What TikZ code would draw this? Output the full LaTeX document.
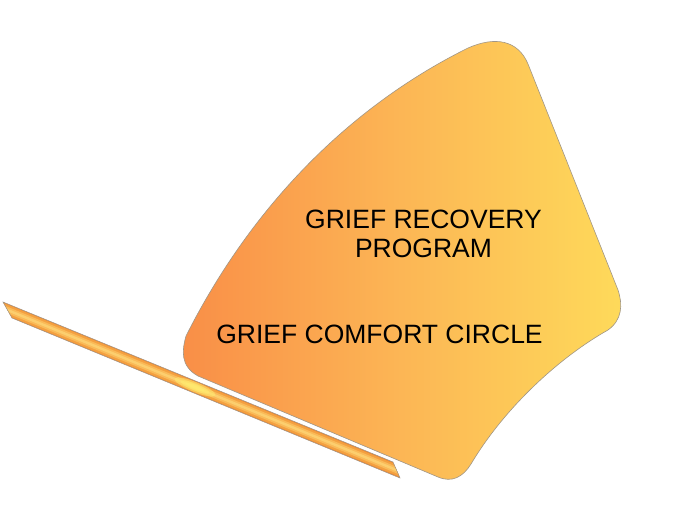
\documentclass[tikz,border=0pt]{standalone}
\usepackage{fontspec}
\setmainfont{Liberation Sans}
\definecolor{fanleft}{RGB}{249,142,71}
\definecolor{fanmid}{RGB}{252,182,85}
\definecolor{fanright}{RGB}{254,218,90}
\definecolor{rim}{RGB}{160,150,135}
\definecolor{baredge}{RGB}{236,136,52}
\definecolor{barmid}{RGB}{244,160,64}
\definecolor{barlight}{RGB}{250,186,88}
\definecolor{barcore}{RGB}{252,206,110}
\definecolor{barglow}{RGB}{255,236,110}
\begin{document}
\begin{tikzpicture}[x=1pt,y=-1pt,
  banner/.style={font=\fontsize{26.5}{29}\selectfont, text=black, inner sep=0pt}]
\useasboundingbox (0,0) rectangle (678,528);
\shadedraw[left color=fanleft, right color=fanright, middle color=fanmid, draw=rim, line width=0.6pt]
  (468,48) .. controls (345,109) and (249,211) .. (186,336)
  .. controls (182,350) and (180,366) .. (198,376) -- (438,477)
  .. controls (452,483) and (463,477) .. (471,464)
  .. controls (505,407) and (560,357) .. (608,330)
  .. controls (622,320) and (623,305) .. (618,290) -- (528,64)
  .. controls (518,40) and (495,36) .. (468,48) -- cycle;
\begin{scope}
\clip (3,302) -- (393,462) -- (400,478) -- (12,318) -- cycle;
\foreach \w/\c in {14/baredge, 10/barmid, 6/barlight, 2.5/barcore}
  \draw[line width=\w pt, \c] (-5,304.9) -- (410,475.6);
\foreach \r in {1,0.7,0.45}
  \fill[barglow, opacity=0.5, shift={(195,387)}, rotate=-22.4] (0,0) ellipse ({22*\r} and {5*\r});
\end{scope}
\draw[rim, line width=0.5pt] (3,302) -- (393,462) -- (400,478) -- (12,318) -- cycle;
\node[banner, align=center] (GRP) at (423.5,234) {GRIEF RECOVERY\\PROGRAM};
\node[banner, anchor=base] (GCC) at (379.5,343) {GRIEF COMFORT CIRCLE};
\end{tikzpicture}
\end{document}
